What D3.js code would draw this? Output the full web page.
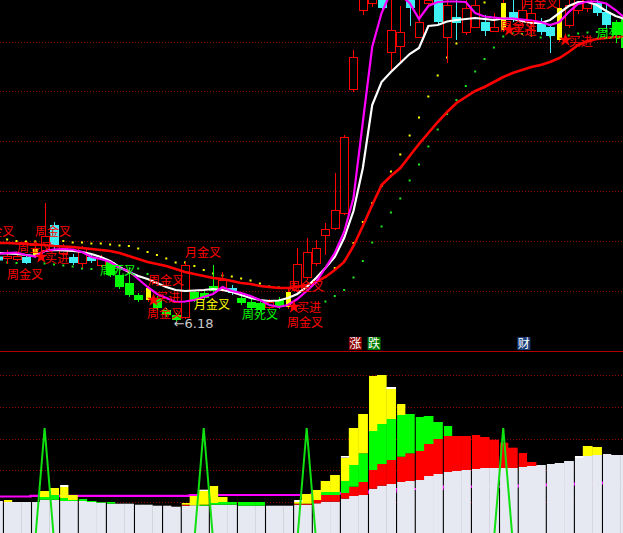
<!DOCTYPE html>
<html><head><meta charset="utf-8">
<script src="https://cdn.jsdelivr.net/npm/d3@7"></script>
<style>html,body{margin:0;padding:0;background:#000;overflow:hidden}</style>
</head><body><svg id="c" width="623" height="533"></svg>
<script>
// ---------- price panel data (one entry per trading day) ----------
const openP  = [7.47,7.44,7.42,7.46,7.46,7.60,8.10,7.54,7.46,7.34,7.46,7.30,7.36,7.10,6.94,6.70,6.84,6.64,6.40,6.30,6.26,6.76,6.74,6.88,6.84,6.84,6.64,6.56,6.54,6.46,6.60,6.46,6.80,7.06,7.34,7.90,8.04,8.34,10.82,12.40,12.54,13.40,11.56,11.68,12.70,11.86,12.54,12.70,11.86,12.26,11.96,12.06,12.16,11.98,12.00,12.36,12.20,12.16,12.16,12.06,11.80,12.10,12.40,12.44,12.54,12.36,12.16,12.24];
const closeP = [7.39,7.48,7.48,7.34,7.62,7.88,7.66,7.68,7.34,7.64,7.38,7.44,7.10,6.86,6.70,6.60,6.60,6.44,6.30,6.20,7.30,6.60,6.64,6.78,7.00,6.74,6.54,6.44,6.40,6.56,6.46,6.76,7.32,7.56,7.64,8.02,8.40,9.86,11.46,13.40,13.60,12.44,12.00,11.96,12.44,12.16,12.60,12.16,12.50,12.14,12.44,12.50,11.98,12.06,12.54,12.20,12.40,12.34,11.96,11.88,12.44,12.50,12.70,12.76,12.34,12.10,11.90,11.64];
const highP  = [7.52,7.60,7.56,7.50,7.66,8.54,8.16,7.72,7.52,7.68,7.50,7.50,7.40,7.16,7.24,6.74,6.88,6.68,6.44,6.34,7.36,6.80,6.80,7.30,7.16,6.90,6.76,6.64,6.60,6.62,6.66,6.84,7.64,7.84,7.80,8.14,9.14,9.90,11.60,13.80,14.00,13.60,12.80,12.48,12.80,12.70,12.70,12.80,12.60,12.60,12.70,12.70,12.30,12.34,12.64,12.64,12.64,12.64,12.24,12.12,12.64,12.70,12.90,12.90,12.70,12.50,12.20,12.30];
const lowP   = [7.36,7.32,7.38,7.32,7.44,7.56,7.60,7.48,7.30,7.24,7.34,7.26,7.06,6.82,6.66,6.56,6.56,6.40,6.26,6.18,6.22,6.56,6.60,6.76,6.80,6.70,6.50,6.40,6.36,6.42,6.42,6.42,6.76,7.00,7.28,7.50,8.00,8.30,10.76,12.30,12.46,12.40,11.20,11.36,12.08,11.84,12.48,12.10,11.34,11.80,11.90,12.04,11.88,11.96,11.96,12.16,12.10,11.86,11.90,11.54,11.76,12.04,12.32,12.36,12.28,12.04,11.74,11.60];
const weakDays   = [12,13,14,15,17,18,19,21,22,23,26,27,28,30,66,67];
const signalDays = [4,16,31,54,60];

const maSlow = [7.74,7.74,7.73,7.72,7.71,7.70,7.68,7.67,7.66,7.64,7.62,7.60,7.58,7.54,7.48,7.42,7.36,7.32,7.28,7.22,7.16,7.12,7.08,7.04,7.02,6.98,6.94,6.92,6.88,6.86,6.84,6.84,6.86,6.90,6.96,7.06,7.20,7.36,7.68,8.08,8.50,8.90,9.08,9.24,9.48,9.72,9.94,10.16,10.36,10.54,10.66,10.78,10.86,10.96,11.06,11.14,11.20,11.26,11.30,11.36,11.44,11.56,11.70,11.78,11.82,11.84,11.86,11.86];
const maMid  = [7.54,7.53,7.52,7.50,7.48,7.58,7.60,7.59,7.58,7.56,7.52,7.46,7.38,7.26,7.16,7.08,7.02,6.94,6.86,6.80,6.78,6.79,6.80,6.82,6.80,6.76,6.70,6.64,6.60,6.58,6.59,6.64,6.72,6.86,7.04,7.24,7.46,7.84,8.38,9.24,10.50,10.96,11.16,11.34,11.52,11.64,12.08,12.10,12.17,12.20,12.22,12.24,12.22,12.20,12.23,12.22,12.18,12.14,12.14,12.20,12.34,12.48,12.56,12.56,12.50,12.38,12.28,12.22];
const maFast = [7.52,7.54,7.55,7.50,7.47,7.58,7.61,7.62,7.61,7.56,7.46,7.42,7.36,7.24,7.18,7.02,6.86,6.72,6.64,6.56,6.57,6.60,6.66,6.72,6.86,6.78,6.74,6.68,6.60,6.50,6.46,6.50,6.62,6.78,6.96,7.24,7.54,7.96,8.64,10.16,11.66,12.34,12.76,12.70,12.54,12.22,12.48,12.56,12.57,12.57,12.56,12.34,12.27,12.25,12.23,12.23,12.21,12.19,12.16,12.10,12.16,12.36,12.52,12.57,12.57,12.53,12.40,12.24];
const dotsUpper = [null,7.81,7.78,7.77,7.77,7.81,7.79,7.78,7.75,7.75,7.73,7.73,7.71,7.69,7.68,7.63,7.56,7.50,7.43,7.35,7.35,7.28,7.20,7.13,7.09,7.07,7.03,6.99,6.93,6.87,6.85,6.84,6.86,6.90,6.96,7.06,7.24,7.37,7.74,8.16,8.54,8.88,9.17,9.51,9.89,10.25,10.67,11.09,11.45,11.73,12.00,12.28,12.55,null,null,null,null,null,null,null,null,null,null,null,null,null,null,null];
const dotsLower = [null,7.35,7.34,null,null,7.33,7.31,7.29,7.27,7.23,7.22,null,null,null,null,7.23,7.12,null,null,null,null,null,null,null,null,null,null,null,null,null,null,null,null,null,null,6.57,6.68,6.80,7.05,7.38,7.75,8.07,8.35,8.63,8.99,9.31,9.67,10.01,10.32,10.60,10.88,11.17,11.42,11.65,11.87,11.93,11.92,11.89,11.85,11.87,11.88,11.89,11.93,11.95,11.96,11.98,12.00,null];
const gridPrices = [11.76,10.78,9.78,8.78,7.78,6.78];
const lowMark = {day:19, value:6.18};

// signal labels: text, day (anchor), price (baseline), kind
const labelText  = ["周金叉","周金叉","周金叉","周金叉","买进","周死叉","月金叉","周金叉","买进","周金叉","月金叉","周死叉","周金叉","买进","周金叉","月金叉","周金叉","买进","买进","周死叉"];
const labelDay   = [-2.1,3.97,0.98,2.05,5.04,10.92,20.0,16.05,16.9,15.94,20.96,26.09,31.0,31.97,30.9,56.0,53.65,55.0,61.0,64.0];
const labelPrice = [7.88,7.88,7.02,7.56,7.34,7.10,7.46,6.90,6.56,6.24,6.42,6.22,6.78,6.36,6.06,12.44,11.98,11.90,11.68,11.84];
const labelKind  = ["gold","gold","gold","gold","buy","dead","gold","gold","buy","gold","month","dead","gold","buy","gold","gold","gold","buy","buy","dead"];

// ---------- indicator panel data ----------
const baseAmt   = [39,38,38,38,38,40.3,40.3,39,39,39,38,37.3,36.3,36.3,36.3,35.3,35.3,34.3,34.3,33.3,34.3,34.7,34.3,35.3,35.3,35.3,34.3,34.3,34.3,34.3,34.3,34.3,35.3,35.3,36.7,38.3,38.3,41.3,44,45,51.3,54.3,56,58,59,60,64,66,68,69,70,71,72,72,72,72,73,74,75,76,77,79,82,84,85,86,85,85];
const redAmt    = [0,0,0,0,0,0,0,0,0,0, 0,0,0,0,0,0,0,0,0,0, 1,0,0,0,0,0,0,0,0,0, 0,0,1,1,3.3,6.7,6.7,5.7,9.3,13, 18.7,21.7,24,25.3,27.7,29,32,35,36,35, 34,34,31,28.3,25.3,20.3,14,4,0,0, 0,0,0,0,0,0,0,0];
const greenAmt  = [0,0,0,0,0,2.7,4.7,3,1,2, 1,0.7,1.7,0,0,0,0,0,0,0, 0,0,1,1.7,2.7,2.7,3.7,3.7,3.7,0, 0,0,0,0,0,3,3,12,21.7,28.7, 39,40,41,41.7,39.3,34,28,17,10,0, 0,0,0,0,0,0,0,0,0,0, 0,0,0,0,0,0,0,0];
const yellowAmt = [0,2,0,0,0,6,7,11,5,0, 0,0,0,0,0,0,0,0,0,0, 1.7,9.3,13.7,17,5,0,0,0,0,0, 0,0,1.7,9.7,10,11,17,23.3,37,39.3, 55,49,30,11,0,0,0,0,0,0, 0,0,0,0,0,0,0,0,0,0, 0,0,0,10,8,0,0,0];
const whiteAmt  = [0,0,0,0,0,0,0,2,0,0, 0,0,0,0,0,0,0,0,0,0, 0,0,1.3,0,0,0,0,0,0,0, 0,0,2,0,0,0,0,1.7,0,0, 0,0,2,0,0,0,0,0,0,0, 0,0,0,0,0,0,0,0,0,0, 0,0,2,0,0,0,0,0];
const spikeDays = [5,22,33,54];
const spikeTop = 112;
const indAvg = [43.5,43.5,43.5,43.5,44.2,44.2,44.2,44.2,44.2,44.2,44.2,44.2,44.2,44.2,44.2,44.2,44.2,44.2,44.2,44.2,44.2,45,45,45,45,45,45,45,45,45,45,45,45,45,46,46,46,47,47,47,48.3,48.3,48.3,51,51,51,51,51,53.3,53.3,53.3,53.3,53.3,53.3,53.3,53.3,54.3,54.3,54.3,55.3,55.3,55.3,56.3,56.3,56.3,57.3,57.3,57.3];
const periodStarts = [1,4,7,9,12,15,18,20,23,26,29,32,34,37,40,43,45,48,51,54,56,59,62,65];
const indGrid = [38,70,101,133,165];
const buttons = [{t:"涨",day:38.2,c:"#8a0000"},{t:"跌",day:40.2,c:"#007a00"},{t:"财",day:56.2,c:"#1a3d78"}];

// ---------- drawing ----------
const W = 623, H = 533, N = openP.length, STEP = 9.36;
const svg = d3.select("#c");
svg.append("rect").attr("width",W).attr("height",H).attr("fill","#000");
const x = d3.scaleLinear().domain([0, N-1]).range([-2.2, -2.2 + STEP*(N-1)]);
const y = d3.scaleLinear().domain([6.0, 12.6]).range([330, 0]);
const yb = d3.scaleLinear().domain([0, 190]).range([540, 350]);

const defs = svg.append("defs");
defs.append("clipPath").attr("id","cTop").append("rect").attr("x",0).attr("y",0).attr("width",W).attr("height",350);
defs.append("clipPath").attr("id","cBot").append("rect").attr("x",0).attr("y",352).attr("width",W).attr("height",H-352);

const RED="#ff0000", CYAN="#3ef0f4", GREEN="#00ff00", YEL="#ffff00", MAG="#ff00ff";
const gTop = svg.append("g").attr("clip-path","url(#cTop)");

// grid
gTop.selectAll("line.g").data(gridPrices).join("line")
  .attr("x1",0).attr("x2",W).attr("y1",d=>Math.round(y(d))+0.5).attr("y2",d=>Math.round(y(d))+0.5)
  .attr("stroke","#8c0000").attr("stroke-dasharray","1 2");

// dot series
const days = d3.range(N);
gTop.selectAll("rect.du").data(days.filter(i=>dotsUpper[i]!=null)).join("rect")
  .attr("x",i=>x(i)-1).attr("y",i=>y(dotsUpper[i])-1).attr("width",2).attr("height",2).attr("fill",YEL);
gTop.selectAll("rect.dl").data(days.filter(i=>dotsLower[i]!=null)).join("rect")
  .attr("x",i=>x(i)-1).attr("y",i=>y(dotsLower[i])-1).attr("width",2).attr("height",2).attr("fill","#1ee81e");

// candles
const cg = gTop.append("g");
days.forEach(i=>{
  const cx = Math.round(x(i));
  const o=y(openP[i]), c=y(closeP[i]), h=y(highP[i]), l=y(lowP[i]);
  const bt=Math.min(o,c), bb=Math.max(o,c);
  const isSig = signalDays.includes(i);
  const rising = closeP[i] >= openP[i];
  if (isSig) {
    cg.append("line").attr("x1",cx+0.5).attr("x2",cx+0.5).attr("y1",h).attr("y2",l).attr("stroke",RED);
    cg.append("rect").attr("x",cx-2).attr("y",bt).attr("width",5).attr("height",Math.max(1,bb-bt)).attr("fill",YEL);
  } else if (rising) {
    cg.append("line").attr("x1",cx+0.5).attr("x2",cx+0.5).attr("y1",h).attr("y2",bt).attr("stroke",RED);
    cg.append("line").attr("x1",cx+0.5).attr("x2",cx+0.5).attr("y1",bb).attr("y2",l).attr("stroke",RED);
    cg.append("rect").attr("x",cx-3.5).attr("y",Math.round(bt)+0.5).attr("width",8).attr("height",Math.max(1,Math.round(bb-bt)))
      .attr("fill","#000").attr("stroke",RED);
  } else {
    const col = weakDays.includes(i) ? GREEN : CYAN;
    cg.append("line").attr("x1",cx+0.5).attr("x2",cx+0.5).attr("y1",h).attr("y2",l).attr("stroke",col);
    cg.append("rect").attr("x",cx-4).attr("y",bt).attr("width",9).attr("height",Math.max(1,bb-bt)).attr("fill",col);
  }
});

// moving averages
const ln = arr => d3.line().x((d,i)=>x(i)).y(d=>y(d))(arr);
gTop.append("path").attr("d",ln(maSlow)).attr("fill","none").attr("stroke",RED).attr("stroke-width",2.6);
gTop.append("path").attr("d",ln(maMid)).attr("fill","none").attr("stroke","#ffffff").attr("stroke-width",2.2);
gTop.append("path").attr("d",ln(maFast)).attr("fill","none").attr("stroke",MAG).attr("stroke-width",2.2);

// stars at signals
gTop.selectAll("path.star").data(signalDays).join("path")
  .attr("d",d3.symbol(d3.symbolStar,55))
  .attr("transform",i=>`translate(${x(i)+6},${y(Math.min(openP[i],closeP[i]))})`)
  .attr("fill",RED);

// labels
const kindCol = {gold:RED, buy:RED, dead:GREEN, month:YEL};
gTop.selectAll("text.lb").data(labelText).join("text")
  .attr("x",(d,k)=>x(labelDay[k])).attr("y",(d,k)=>y(labelPrice[k]))
  .attr("fill",(d,k)=>kindCol[labelKind[k]])
  .attr("font-family","'Noto Sans CJK SC','Noto Sans CJK JP',sans-serif").attr("font-size",12)
  .text(d=>d);
gTop.append("text").attr("x",x(lowMark.day)-2).attr("y",y(lowMark.value)+7)
  .attr("fill","#c8c8c8").attr("font-family","'DejaVu Sans',sans-serif").attr("font-size",13)
  .text("←"+lowMark.value.toFixed(2));

// separator
svg.append("line").attr("x1",0).attr("x2",W).attr("y1",351.5).attr("y2",351.5).attr("stroke","#b00000");

// buttons
buttons.forEach(b=>{
  const bx = x(b.day);
  svg.append("rect").attr("x",bx-6.5).attr("y",337).attr("width",13).attr("height",13).attr("fill",b.c);
  svg.append("text").attr("x",bx).attr("y",348).attr("text-anchor","middle").attr("fill","#fff")
    .attr("font-family","'Noto Sans CJK SC',sans-serif").attr("font-size",12).text(b.t);
});

// ---------- indicator panel ----------
const bot = svg.append("g").attr("clip-path","url(#cBot)");
bot.selectAll("line.g").data(indGrid).join("line")
  .attr("x1",0).attr("x2",W).attr("y1",d=>Math.round(yb(d))+0.5).attr("y2",d=>Math.round(yb(d))+0.5)
  .attr("stroke","#8c0000").attr("stroke-dasharray","1 2");
bot.append("path").attr("d",d3.line().curve(d3.curveStep).x((d,i)=>x(i)).y(d=>yb(d))(indAvg))
  .attr("fill","none").attr("stroke",MAG).attr("stroke-width",2.2);

const stackRows = days.map(i=>({base:baseAmt[i],red:redAmt[i],green:greenAmt[i],yellow:yellowAmt[i],white:whiteAmt[i]}));
const series = d3.stack().keys(["base","red","green","yellow","white"])(stackRows);
const layerCol = {base:"#e6e8f2", red:RED, green:GREEN, yellow:YEL, white:"#ffffff"};
series.forEach(s=>{
  bot.selectAll(null).data(s).join("rect")
    .attr("x",(d,i)=>x(i)-STEP/2 + (periodStarts.includes(i)?1.5:0))
    .attr("width",(d,i)=>STEP + 0.4 - (periodStarts.includes(i)?1.5:0))
    .attr("y",d=>yb(d[1])).attr("height",d=>Math.max(0,yb(d[0])-yb(d[1])))
    .attr("fill",layerCol[s.key]);
});
const spike = days.map(i=>spikeDays.includes(i)?spikeTop:0);
bot.append("path").attr("d",d3.line().x((d,i)=>x(i)).y(d=>yb(d))(spike))
  .attr("fill","none").attr("stroke","#10e010").attr("stroke-width",2);
</script></body></html>
